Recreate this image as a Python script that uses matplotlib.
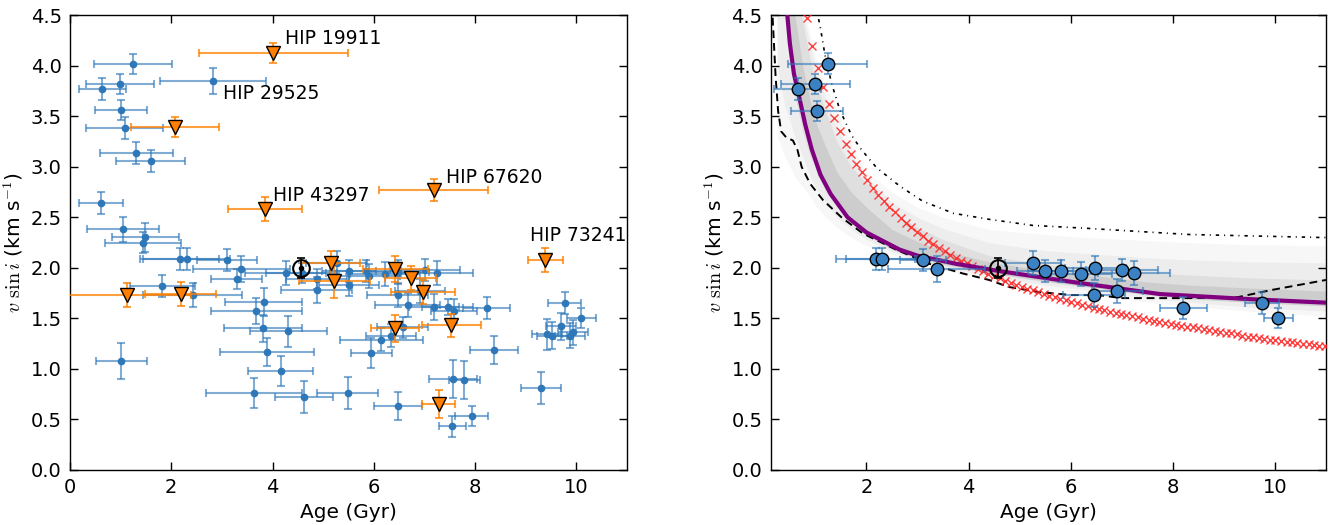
import numpy as np
import matplotlib
matplotlib.use('Agg')
import matplotlib.pyplot as plt

plt.rcParams['font.family'] = ['DejaVu Sans']
plt.rcParams['mathtext.fontset'] = 'cm'

# ---- left panel: full sample ----
blue_age = [1.24, 0.99, 0.64, 2.83, 1.01, 1.08, 1.31, 1.59, 0.61, 1.05, 1.49, 1.44,
            2.17, 2.30, 3.10, 3.38, 3.29, 4.26, 4.58, 4.87, 4.87, 1.82, 2.42, 3.83,
            3.68, 3.82, 4.31, 3.89, 4.16, 1.01, 3.63, 4.62, 5.48, 5.27, 5.51, 5.51,
            5.84, 5.91, 6.22, 6.48, 7.01, 7.24, 6.47, 6.67, 7.19, 7.46, 7.58, 8.23,
            6.57, 6.34, 6.15, 5.95, 8.37, 7.56, 7.79, 6.48, 7.93, 7.55, 9.30, 9.77,
            10.10, 9.42, 9.52, 9.70, 9.87, 9.93, 6.91]
blue_age_err = [0.77, 0.67, 0.46, 1.05, 0.51, 0.76, 0.72, 0.68, 0.44, 0.71, 0.66, 0.75,
                0.78, 0.85, 0.60, 0.96, 0.50, 0.80, 0.70, 0.60, 0.70, 0.64, 0.98, 0.76,
                0.90, 0.77, 0.76, 0.92, 0.64, 0.50, 0.95, 0.58, 0.60, 0.60, 0.54, 0.60,
                0.70, 0.60, 0.70, 0.60, 0.70, 0.71, 0.60, 0.64, 0.50, 0.50, 0.45, 0.46,
                0.50, 0.50, 0.82, 0.40, 0.47, 0.48, 0.30, 0.48, 0.32, 0.27, 0.40, 0.33,
                0.28, 0.30, 0.30, 0.30, 0.30, 0.30, 0.50]
blue_vsini = [4.02, 3.82, 3.77, 3.85, 3.56, 3.38, 3.14, 3.06, 2.64, 2.38, 2.30, 2.25,
              2.09, 2.09, 2.08, 1.99, 1.89, 1.95, 1.95, 1.89, 1.78, 1.82, 1.73, 1.66,
              1.57, 1.40, 1.37, 1.17, 0.98, 1.08, 0.76, 0.72, 0.76, 2.05, 1.97, 1.83,
              1.97, 1.92, 1.94, 1.96, 1.98, 1.95, 1.73, 1.63, 1.61, 1.61, 1.57, 1.60,
              1.41, 1.33, 1.29, 1.16, 1.19, 0.90, 0.89, 0.63, 0.53, 0.43, 0.81, 1.65,
              1.50, 1.34, 1.33, 1.42, 1.33, 1.36, 1.77]
blue_vsini_err = [0.10, 0.10, 0.11, 0.13, 0.10, 0.11, 0.11, 0.11, 0.11, 0.12, 0.14, 0.10,
                  0.11, 0.11, 0.11, 0.13, 0.10, 0.12, 0.10, 0.10, 0.13, 0.11, 0.12, 0.14,
                  0.13, 0.13, 0.15, 0.14, 0.15, 0.18, 0.15, 0.16, 0.16, 0.12, 0.11, 0.11,
                  0.11, 0.12, 0.12, 0.12, 0.11, 0.12, 0.12, 0.12, 0.13, 0.08, 0.12, 0.11,
                  0.10, 0.11, 0.11, 0.15, 0.14, 0.19, 0.19, 0.14, 0.10, 0.10, 0.16, 0.11,
                  0.10, 0.15, 0.13, 0.13, 0.12, 0.12, 0.12]

lim_age = [4.01, 2.08, 3.85, 7.18, 9.39, 1.12, 2.19, 5.15, 5.22, 6.42, 6.73, 6.97, 6.42, 7.53, 7.28]
lim_age_err = [1.47, 0.87, 0.74, 1.08, 0.35, 1.27, 0.70, 0.58, 0.70, 0.64, 0.50, 0.64, 0.47, 0.58, 0.32]
lim_vsini = [4.13, 3.39, 2.58, 2.77, 2.08, 1.73, 1.74, 2.05, 1.87, 1.99, 1.90, 1.76, 1.40, 1.43, 0.65]
lim_vsini_err = [0.10, 0.10, 0.12, 0.11, 0.12, 0.12, 0.12, 0.12, 0.17, 0.13, 0.12, 0.12, 0.135, 0.11, 0.14]

hip_names = ['HIP 19911', 'HIP 29525', 'HIP 43297', 'HIP 67620', 'HIP 73241']
hip_text_x = [4.25, 3.02, 4.01, 7.43, 9.09]
hip_text_y = [4.27, 3.73, 2.72, 2.89, 2.32]

sun_age, sun_vsini, sun_vsini_err = 4.57, 2.0, 0.1

# ---- right panel: calibration sample ----
cal_age = [0.65, 1.00, 1.24, 1.03, 2.18, 2.30, 3.10, 3.38, 5.27, 5.50, 5.82, 6.21,
           6.48, 7.01, 7.24, 6.46, 6.91, 8.21, 9.75, 10.07]
cal_age_err = [0.46, 0.67, 0.77, 0.51, 0.78, 0.70, 0.45, 0.95, 0.55, 0.55, 0.65, 0.60,
               0.60, 0.70, 0.71, 0.60, 0.50, 0.46, 0.33, 0.28]
cal_vsini = [3.77, 3.82, 4.02, 3.55, 2.09, 2.09, 2.08, 1.99, 2.05, 1.97, 1.97, 1.94,
             2.00, 1.98, 1.95, 1.73, 1.77, 1.60, 1.65, 1.50]
cal_vsini_err = [0.11, 0.10, 0.105, 0.10, 0.11, 0.11, 0.11, 0.13, 0.12, 0.11, 0.11, 0.12,
                 0.12, 0.11, 0.12, 0.12, 0.12, 0.11, 0.11, 0.10]

# best fit (purple)
fit_age = [0.45, 0.50, 0.58, 0.67, 0.80, 0.93, 1.10, 1.30, 1.63, 2.00, 2.65, 3.00,
           3.75, 4.57, 6.03, 7.75, 9.50, 11.0]
fit_vsini = [4.50, 4.22, 3.92, 3.72, 3.42, 3.17, 2.92, 2.73, 2.50, 2.35, 2.18, 2.12,
             2.04, 1.97, 1.86, 1.74, 1.69, 1.655]

# dashed curve
dash_age = [0.15, 0.19, 0.22, 0.27, 0.33, 0.43, 0.56, 0.65, 0.73, 0.90, 1.15, 1.51,
            1.93, 2.58, 3.23, 3.88, 4.40, 4.79, 5.38, 6.03, 6.55, 7.00, 8.30, 9.28,
            9.93, 10.90, 11.0]
dash_vsini = [4.60, 4.20, 3.90, 3.55, 3.35, 3.29, 3.26, 3.165, 3.00, 2.83, 2.67, 2.50,
              2.34, 2.18, 2.04, 1.945, 1.88, 1.81, 1.76, 1.73, 1.73, 1.70, 1.70, 1.71,
              1.78, 1.87, 1.88]

# dash-dot curve
dd_age = [1.00, 1.09, 1.19, 1.32, 1.48, 1.71, 1.90, 2.20, 2.65, 3.10, 3.70, 4.40,
          5.25, 6.35, 8.30, 10.90, 11.0]
dd_vsini = [4.60, 4.40, 4.10, 3.82, 3.56, 3.31, 3.17, 2.99, 2.81, 2.66, 2.54, 2.48,
            2.42, 2.39, 2.33, 2.30, 2.30]

# red crosses
red_age = [0.83, 0.94, 1.05, 1.15, 1.26, 1.37, 1.48, 1.59, 1.69, 1.80, 1.91, 2.02,
           2.13, 2.23, 2.34, 2.45, 2.56, 2.67, 2.77, 2.88, 2.99, 3.10, 3.21, 3.31,
           3.42, 3.53, 3.64, 3.75, 3.85, 3.96, 4.07, 4.18, 4.29, 4.39, 4.50, 4.61,
           4.72, 4.83, 4.93, 5.04, 5.15, 5.26, 5.37, 5.47, 5.58, 5.69, 5.80, 5.91,
           6.01, 6.12, 6.23, 6.34, 6.45, 6.55, 6.66, 6.77, 6.88, 6.99, 7.09, 7.20,
           7.31, 7.42, 7.53, 7.63, 7.74, 7.85, 7.96, 8.07, 8.17, 8.28, 8.39, 8.50,
           8.61, 8.71, 8.82, 8.93, 9.04, 9.15, 9.25, 9.36, 9.47, 9.58, 9.69, 9.79,
           9.90, 10.01, 10.12, 10.23, 10.33, 10.44, 10.55, 10.66, 10.77, 10.87, 10.98]
red_vsini = [4.47, 4.20, 3.98, 3.79, 3.62, 3.48, 3.35, 3.23, 3.13, 3.03, 2.95, 2.87,
             2.79, 2.72, 2.66, 2.60, 2.55, 2.49, 2.44, 2.40, 2.35, 2.31, 2.27, 2.24,
             2.20, 2.17, 2.13, 2.10, 2.07, 2.05, 2.02, 1.99, 1.97, 1.94, 1.92, 1.90,
             1.87, 1.85, 1.83, 1.81, 1.79, 1.78, 1.76, 1.74, 1.72, 1.71, 1.69, 1.68,
             1.66, 1.65, 1.63, 1.62, 1.60, 1.59, 1.58, 1.56, 1.55, 1.54, 1.53, 1.52,
             1.51, 1.49, 1.48, 1.47, 1.46, 1.45, 1.44, 1.43, 1.42, 1.41, 1.41, 1.40,
             1.39, 1.38, 1.37, 1.36, 1.35, 1.35, 1.34, 1.33, 1.32, 1.32, 1.31, 1.30,
             1.29, 1.29, 1.28, 1.27, 1.27, 1.26, 1.25, 1.25, 1.24, 1.23, 1.23]

# spread of the posterior curves (grey), nested from faint to dense
band_age = [0.25, 0.40, 0.50, 0.60, 0.75, 0.90, 1.00, 1.20, 1.42, 1.70, 2.00, 2.50,
            3.00, 3.50, 4.40, 5.50, 6.35, 7.50, 8.30, 9.50, 11.0]
outer_lo = [3.30, 3.10, 3.00, 2.90, 2.80, 2.70, 2.62, 2.50, 2.40, 2.30, 2.22, 2.13,
            2.05, 1.98, 1.88, 1.79, 1.74, 1.66, 1.62, 1.57, 1.52]
outer_hi = [4.80, 4.80, 4.80, 4.80, 4.60, 4.30, 4.10, 3.80, 3.56, 3.22, 2.95, 2.75,
            2.60, 2.50, 2.38, 2.33, 2.30, 2.27, 2.25, 2.23, 2.22]
mid_lo = [4.00, 3.60, 3.45, 3.30, 3.10, 2.90, 2.80, 2.65, 2.50, 2.38, 2.28, 2.16,
          2.08, 2.01, 1.92, 1.83, 1.78, 1.70, 1.66, 1.61, 1.57]
mid_hi = [4.80, 4.80, 4.80, 4.80, 4.55, 4.20, 4.00, 3.68, 3.40, 3.12, 2.90, 2.65,
          2.50, 2.39, 2.25, 2.17, 2.14, 2.10, 2.08, 2.06, 2.05]
inner_lo = [4.80, 4.60, 4.00, 3.70, 3.35, 3.10, 2.98, 2.75, 2.60, 2.45, 2.33, 2.20,
            2.10, 2.04, 1.95, 1.86, 1.81, 1.74, 1.70, 1.66, 1.62]
inner_hi = [4.80, 4.80, 4.80, 4.80, 4.45, 4.05, 3.85, 3.55, 3.25, 3.00, 2.84, 2.55,
            2.40, 2.28, 2.12, 2.03, 2.00, 1.95, 1.93, 1.90, 1.88]
core_lo = [4.80, 4.80, 4.19, 3.85, 3.49, 3.19, 3.05, 2.79, 2.61, 2.44, 2.32, 2.18,
           2.09, 2.03, 1.95, 1.87, 1.81, 1.73, 1.69, 1.66, 1.625]
core_hi = [4.80, 4.80, 4.80, 4.50, 4.00, 3.65, 3.45, 3.20, 2.95, 2.75, 2.60, 2.38,
           2.26, 2.17, 2.06, 1.97, 1.93, 1.86, 1.83, 1.80, 1.77]

blue = '#2e77b8'
orange = '#ff8000'
ylab = r'$v\ \sin i$ (km s$^{-1}$)'

fig = plt.figure(figsize=(13.42, 5.25), dpi=100)
ax1 = fig.add_axes([0.0522, 0.105, 0.415, 0.866])
ax2 = fig.add_axes([0.5745, 0.105, 0.4135, 0.866])

# left
eb1 = ax1.errorbar(blue_age, blue_vsini, xerr=blue_age_err, yerr=blue_vsini_err, fmt='o',
                   color=blue, ms=4.5, ecolor=blue, elinewidth=1.5, capsize=3, capthick=1.5,
                   zorder=2)
for l in eb1.lines[2]:
    l.set_alpha(0.6)
for l in eb1.lines[1]:
    l.set_alpha(0.6)
ax1.errorbar(lim_age, lim_vsini, xerr=lim_age_err, yerr=lim_vsini_err, fmt='none',
             ecolor=orange, elinewidth=1.5, capsize=3, capthick=1.5, alpha=0.75, zorder=3)
ax1.plot(lim_age, lim_vsini, 'v', ms=10, mfc=orange, mec='k', mew=1.0, zorder=4)
for name, tx, ty in zip(hip_names, hip_text_x, hip_text_y):
    ax1.text(tx, ty, name, fontsize=13.5, ha='left', va='center')

# right
ax2.fill_between(band_age, outer_lo, outer_hi, color='k', alpha=0.03, lw=0, zorder=1)
ax2.fill_between(band_age, mid_lo, mid_hi, color='k', alpha=0.04, lw=0, zorder=1)
ax2.fill_between(band_age, inner_lo, inner_hi, color='k', alpha=0.06, lw=0, zorder=1)
ax2.fill_between(band_age, core_lo, core_hi, color='k', alpha=0.08, lw=0, zorder=1)
ax2.plot(dash_age, dash_vsini, color='k', lw=1.4, dashes=(4, 2.5), zorder=2)
ax2.plot(dd_age, dd_vsini, color='k', lw=1.2, dashes=(2, 3, 0.6, 3), zorder=2)
ax2.plot(red_age, red_vsini, 'x', color='#ff2020', ms=6, mew=1.0, alpha=0.85, zorder=3)
ax2.plot(fit_age, fit_vsini, color='purple', lw=3, zorder=4)
eb2 = ax2.errorbar(cal_age, cal_vsini, xerr=cal_age_err, yerr=cal_vsini_err, fmt='none',
                   ecolor=blue, elinewidth=1.5, capsize=3, capthick=1.5, zorder=5)
for l in eb2.lines[2]:
    l.set_alpha(0.6)
for l in eb2.lines[1]:
    l.set_alpha(0.6)
ax2.plot(cal_age, cal_vsini, 'o', ms=9, mfc='#3a82c4', mec='k', mew=1.0, zorder=6)

for ax in (ax1, ax2):
    ax.errorbar([sun_age], [sun_vsini], yerr=[sun_vsini_err], fmt='none', ecolor='k',
                elinewidth=1.2, capsize=3, capthick=1.2, zorder=7)
    ax.plot([sun_age], [sun_vsini], 'o', ms=12, mfc='none', mec='k', mew=1.5, zorder=8)
    ax.plot([sun_age], [sun_vsini], 'o', ms=3, color='k', zorder=8)
    ax.set_ylim(0, 4.5)
    ax.set_yticks(np.arange(0, 4.51, 0.5))
    ax.set_xticks([0, 2, 4, 6, 8, 10])
    ax.tick_params(direction='in', top=True, right=True, length=6, width=1,
                   labelsize=14, pad=6)
    ax.set_xlabel('Age (Gyr)', fontsize=14.5)
    ax.set_ylabel(ylab, fontsize=14.5)
    for s in ax.spines.values():
        s.set_linewidth(1.0)

ax1.set_xlim(0, 11)
ax2.set_xlim(0.13, 11)

fig.savefig('out.png', dpi=100)
